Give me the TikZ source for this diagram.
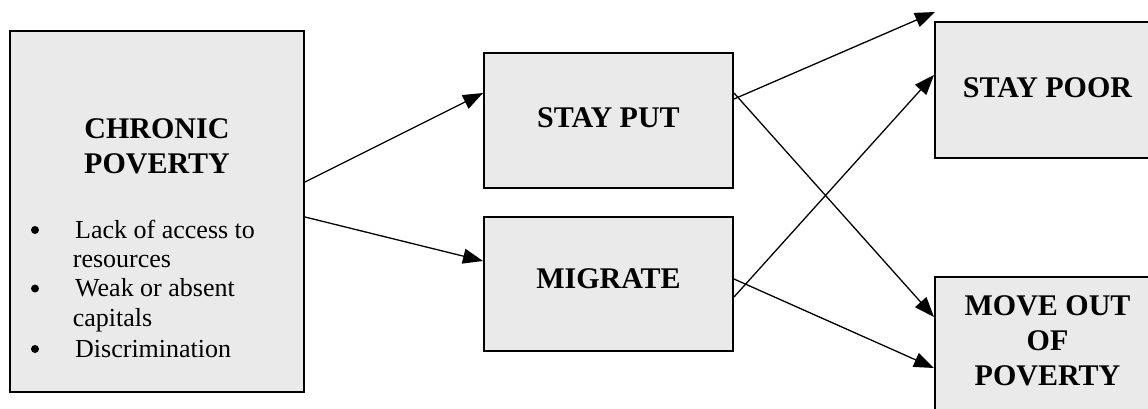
\documentclass[tikz,border=0pt]{standalone}
\usepackage{fontspec}
\setmainfont{Liberation Serif}
\usetikzlibrary{arrows.meta}
\definecolor{boxgray}{HTML}{EAEAEA}
\begin{document}
\begin{tikzpicture}[x=1pt,y=-1pt,
  box/.style={draw, line width=2pt, fill=boxgray, inner sep=0pt},
  heading/.style={font=\fontsize{30}{35}\selectfont\bfseries, inner sep=0pt, anchor=base},
  itemtext/.style={font=\fontsize{26}{29.5}\selectfont, inner sep=0pt, anchor=base west},
  bulletmark/.style={circle, fill=black, inner sep=0pt, minimum size=8pt},
  link/.style={line width=1.3pt, -{Triangle[length=20pt,width=15pt]}}]
\useasboundingbox (0,0) rectangle (1148,408);
\clip (0,0) rectangle (1148,408);

% boxes
\node[box, minimum width=294pt, minimum height=361pt] (chronic) at (157,211.5) {};
\node[box, minimum width=249pt, minimum height=135pt] (stayput) at (608.5,120.5) {};
\node[box, minimum width=249pt, minimum height=134pt] (migrate) at (608.5,284) {};
\node[box, minimum width=225pt, minimum height=136pt] (staypoor) at (1047.5,90) {};
\node[box, minimum width=225pt, minimum height=143pt] (moveout) at (1047.5,348.5) {};

% headings
\node[heading] (chronicA) at (157,138) {CHRONIC};
\node[heading] (chronicB) at (157,173) {POVERTY};
\node[heading] (stayputT) at (608.5,127) {STAY PUT};
\node[heading] (migrateT) at (608.5,288) {MIGRATE};
\node[heading] (staypoorT) at (1047.5,97) {STAY POOR};
\node[heading] (moveoutA) at (1047.5,315) {MOVE OUT};
\node[heading] (moveoutB) at (1047.5,350) {OF};
\node[heading] (moveoutC) at (1047.5,385) {POVERTY};

% bullet list
\node[bulletmark] (b1) at (35,230) {};
\node[itemtext] (i1a) at (75,238.3) {Lack of access to};
\node[itemtext] (i1b) at (72.7,267.3) {resources};
\node[bulletmark] (b2) at (35,288.5) {};
\node[itemtext] (i2a) at (75,296.7) {Weak or absent};
\node[itemtext] (i2b) at (72.7,326.7) {capitals};
\node[bulletmark] (b3) at (35,349) {};
\node[itemtext] (i3a) at (75,357.3) {Discrimination};

% connectors
\coordinate (loose) at (935,12);
\draw[link] (chronic.east |- 0,182) -- (stayput.west |- 0,93);
\draw[link] (chronic.east |- 0,217) -- (migrate.west |- 0,261);
\draw[link] (stayput.east |- 0,99) -- (loose);
\draw[link] (stayput.east |- 0,93) -- (moveout.west |- 0,317);
\draw[link] (migrate.east |- 0,297) -- (staypoor.west |- 0,75);
\draw[link] (migrate.east |- 0,279) -- (moveout.west |- 0,368);
\end{tikzpicture}
\end{document}
